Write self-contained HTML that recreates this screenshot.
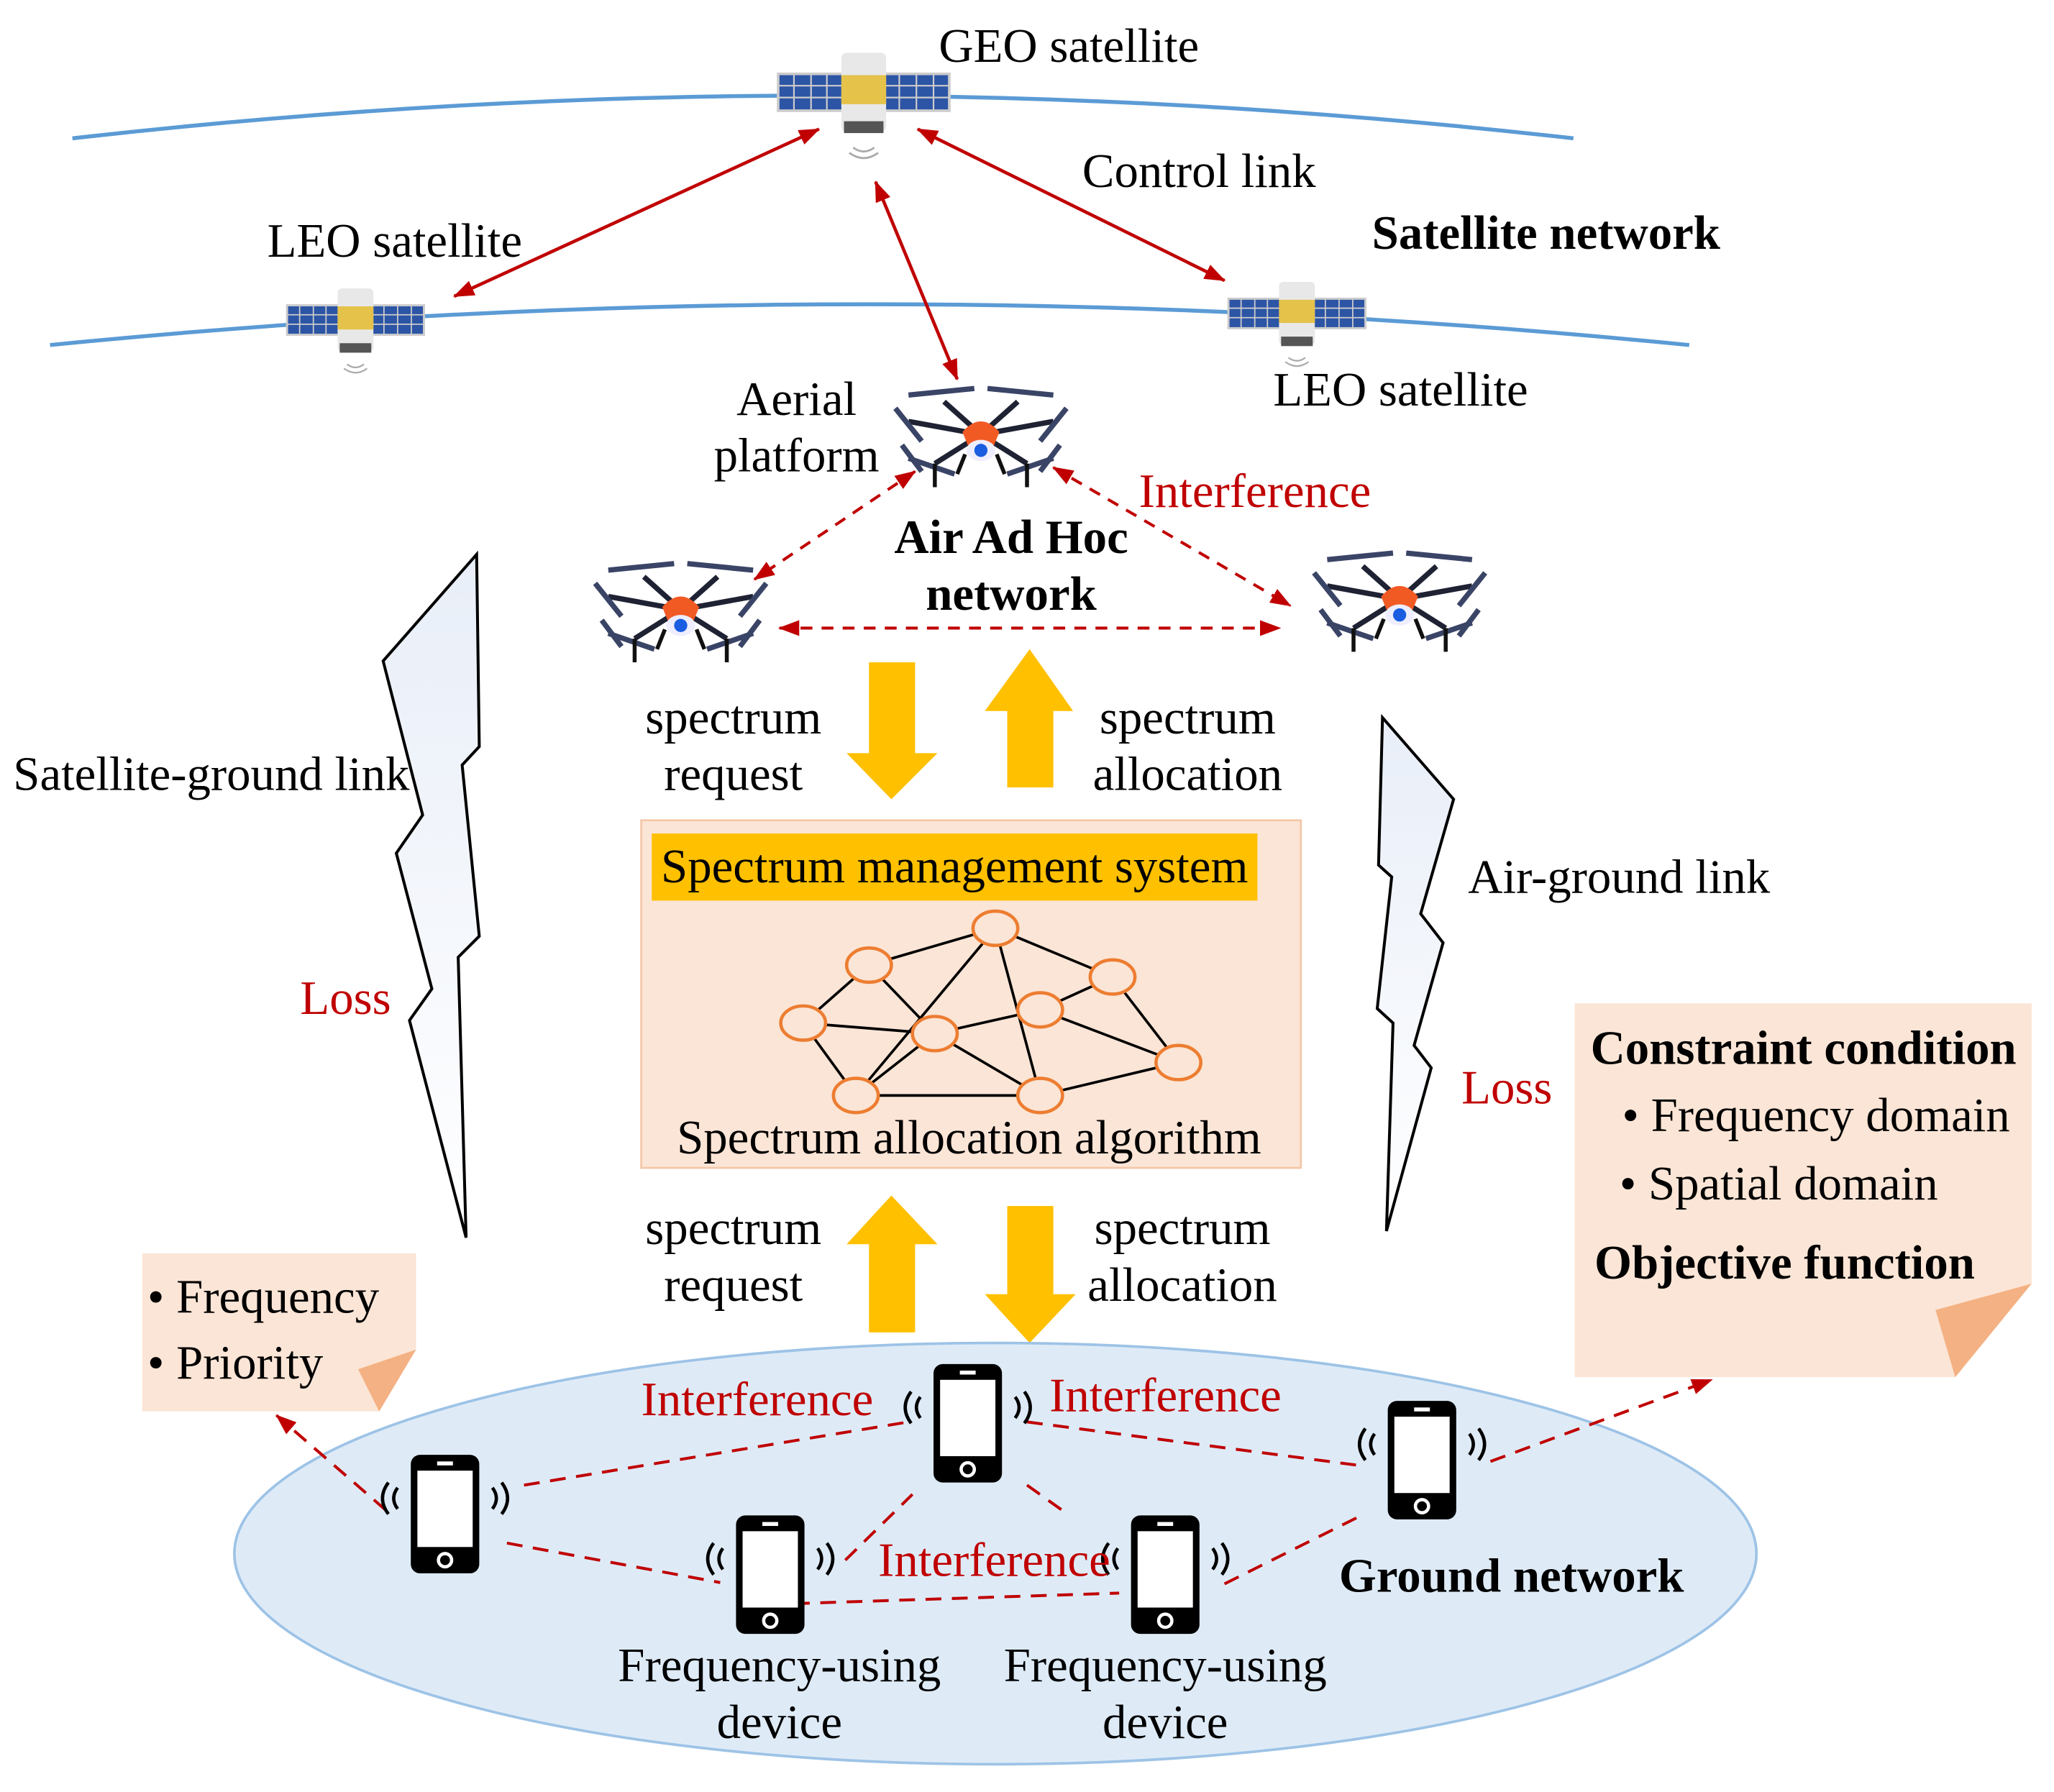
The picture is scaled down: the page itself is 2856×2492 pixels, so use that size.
<!DOCTYPE html>
<html><head><meta charset="utf-8"><style>
html,body{margin:0;padding:0;background:#fff}
svg{display:block}
text{font-family:"Liberation Serif",serif;font-size:36.5px;fill:#000}
.r{fill:#c00000}
.b{font-weight:bold}
</style></head><body>
<svg width="2856" height="2492" viewBox="0 0 1560 1361" xmlns="http://www.w3.org/2000/svg">
<defs>
<marker id="ah2" markerWidth="16" markerHeight="12" refX="15" refY="6" orient="auto-start-reverse" markerUnits="userSpaceOnUse"><path d="M0,0 L16,6 L0,12 z" fill="#c00000"/></marker>
<linearGradient id="bg" x1="0" y1="0" x2="0" y2="1"><stop offset="0" stop-color="#e8eef8"/><stop offset="1" stop-color="#ffffff"/></linearGradient>
<g id="sat">
<rect x="-65" y="-14" width="50" height="28" fill="#2d55a5" stroke="#ccc" stroke-width="2"/>
<rect x="15" y="-14" width="50" height="28" fill="#2d55a5" stroke="#ccc" stroke-width="2"/>
<path d="M-53,-14v28M-40,-14v28M-28,-14v28M27,-14v28M40,-14v28M53,-14v28M-65,-5h50M-65,4h50M15,-5h50M15,4h50" stroke="#ccc" stroke-width="1.2"/>
<rect x="-17" y="-30" width="34" height="60" rx="4" fill="#e8e8e8"/>
<rect x="-17" y="-13" width="34" height="22" fill="#e5c24a"/>
<rect x="-15" y="22" width="30" height="9" fill="#555"/>
<path d="M-8,42 q8,6 16,0 M-11,46 q11,8 22,0" stroke="#aaa" fill="none" stroke-width="1.5"/>
</g>
<g id="drone">
<g stroke="#1e2233" stroke-width="4" fill="none">
<path d="M0,0 L-55,-10 M0,0 L55,-10 M0,0 L-28,-25 M0,0 L28,-25 M0,0 L-35,22 M0,0 L35,22"/>
</g>
<g stroke="#3a4466" stroke-width="4" fill="none">
<path d="M-65,-20 L-45,5 M65,-20 L45,5 M-55,-30 L-5,-35 M55,-30 L5,-35 M-55,18 L-20,30 M55,18 L20,30 M-60,8 L-45,28 M60,8 L45,28"/>
</g>
<path d="M-14,-2 Q0,-18 14,-2 L10,8 H-10Z" fill="#f25a24"/>
<ellipse cx="0" cy="12" rx="11" ry="8" fill="#eef"/>
<circle cx="0" cy="12" r="5" fill="#1a5de0"/>
<path d="M-35,22 v18 M35,22 v18 M-12,15 L-18,30 M12,15 L18,30" stroke="#111" stroke-width="3"/>
</g>
<g id="phone">
<rect x="-26" y="-45" width="52" height="90" rx="7" fill="#000"/>
<rect x="-21" y="-33" width="42" height="58" fill="#fff"/>
<rect x="-6" y="-40" width="12" height="3" fill="#fff"/>
<circle cx="0" cy="35" r="5" fill="none" stroke="#fff" stroke-width="2.5"/>
<path d="M-36,-20 q-6,8 0,16 M-43,-24 q-9,12 0,24 M36,-20 q6,8 0,16 M43,-24 q9,12 0,24" stroke="#000" stroke-width="2.5" fill="none"/>
</g>
</defs>

<path d="M55,105 Q625,40 1195,105" stroke="#5b9bd5" stroke-width="3" fill="none"/>
<path d="M38,262 Q660,200 1283,262" stroke="#5b9bd5" stroke-width="3" fill="none"/>
<use href="#sat" x="656" y="70"/>
<use href="#sat" transform="translate(270,243) scale(0.8)"/>
<use href="#sat" transform="translate(985,238) scale(0.8)"/>

<text x="713" y="47">GEO satellite</text>
<text x="822" y="142">Control link</text>
<text x="1042" y="189" class="b">Satellite network</text>
<text x="203" y="195">LEO satellite</text>
<text x="967" y="308">LEO satellite</text>

<g stroke="#c00000" stroke-width="2.5" fill="none">
<line x1="622" y1="98" x2="345" y2="225" marker-start="url(#ah2)" marker-end="url(#ah2)"/>
<line x1="697" y1="98" x2="930" y2="213" marker-start="url(#ah2)" marker-end="url(#ah2)"/>
<line x1="665" y1="138" x2="727" y2="288" marker-start="url(#ah2)" marker-end="url(#ah2)"/>
</g>

<use href="#drone" x="745" y="330"/>
<use href="#drone" x="517" y="463"/>
<use href="#drone" x="1063" y="455"/>
<text x="605" y="315" text-anchor="middle">Aerial</text>
<text x="605" y="358" text-anchor="middle">platform</text>
<text x="865" y="385" class="r">Interference</text>
<text x="768" y="420" text-anchor="middle" class="b">Air Ad Hoc</text>
<text x="768" y="463" text-anchor="middle" class="b">network</text>

<g stroke="#c00000" stroke-width="2.2" stroke-dasharray="9,7" fill="none">
<line x1="695" y1="358" x2="573" y2="440" marker-start="url(#ah2)" marker-end="url(#ah2)"/>
<line x1="800" y1="355" x2="980" y2="460" marker-start="url(#ah2)" marker-end="url(#ah2)"/>
<line x1="592" y1="477" x2="972" y2="477" marker-start="url(#ah2)" marker-end="url(#ah2)"/>
</g>

<g fill="#ffc000">
<path d="M660,503 H695 V572 H712 L677,607 L643,572 H660Z"/>
<path d="M765,598 H800 V540 H815 L782,493 L748,540 H765Z"/>
<path d="M660,1012 H695 V945 H712 L677,908 L643,945 H660Z"/>
<path d="M765,916 H800 V983 H817 L782,1020 L748,983 H765Z"/>
</g>
<text x="557" y="557" text-anchor="middle">spectrum</text>
<text x="557" y="600" text-anchor="middle">request</text>
<text x="902" y="557" text-anchor="middle">spectrum</text>
<text x="902" y="600" text-anchor="middle">allocation</text>
<text x="557" y="945" text-anchor="middle">spectrum</text>
<text x="557" y="988" text-anchor="middle">request</text>
<text x="898" y="945" text-anchor="middle">spectrum</text>
<text x="898" y="988" text-anchor="middle">allocation</text>

<rect x="487" y="623" width="501" height="264" fill="#fbe5d6" stroke="#f4c7a8" stroke-width="1.5"/>
<rect x="495" y="633" width="460" height="51" fill="#ffc000"/>
<text x="502" y="670">Spectrum management system</text>
<text x="736" y="876" text-anchor="middle">Spectrum allocation algorithm</text>
<g stroke="#000" stroke-width="2" fill="none">
<path d="M660,733 L756,705 L845,742 M660,733 L610,777 L710,785 L790,767 L845,742 L895,807 L790,832 L650,832 L610,777 M756,705 L650,832 M756,705 L790,832 M710,785 L790,832 M790,767 L895,807 M660,733 L710,785 M710,785 L650,832"/>
</g>
<g fill="#fbe5d6" stroke="#ed7d31" stroke-width="2.5">
<ellipse cx="756" cy="705" rx="17" ry="13"/><ellipse cx="660" cy="733" rx="17" ry="13"/>
<ellipse cx="845" cy="742" rx="17" ry="13"/><ellipse cx="790" cy="767" rx="17" ry="13"/>
<ellipse cx="610" cy="777" rx="17" ry="13"/><ellipse cx="710" cy="785" rx="17" ry="13"/>
<ellipse cx="895" cy="807" rx="17" ry="13"/><ellipse cx="650" cy="832" rx="17" ry="13"/>
<ellipse cx="790" cy="832" rx="17" ry="13"/>
</g>

<polygon points="362,421 291,502 321,619 301,648 328,751 311,775 354,940 348,727 364,711 351,581 364,567" fill="url(#bg)" stroke="#000" stroke-width="2.2" stroke-linejoin="miter"/>
<polygon points="1050,545 1104,607 1079,694 1096,716 1074,794 1087,811 1053,935 1058,777 1046,766 1057,666 1047,657" fill="url(#bg)" stroke="#000" stroke-width="2.2"/>
<text x="10" y="600">Satellite-ground link</text>
<text x="228" y="770" class="r">Loss</text>
<text x="1115" y="678">Air-ground link</text>
<text x="1110" y="838" class="r">Loss</text>

<path d="M108,952 H316 V1025 L288,1072 H108Z" fill="#fbe5d6"/>
<path d="M272,1040 L316,1025 L288,1072Z" fill="#f4b183"/>
<text x="112" y="997">• Frequency</text>
<text x="112" y="1047">• Priority</text>
<path d="M1196,762 H1543 V975 L1485,1046 H1196Z" fill="#fbe5d6"/>
<path d="M1470,995 L1543,975 L1485,1046Z" fill="#f4b183"/>
<text x="1208" y="808" class="b">Constraint condition</text>
<text x="1232" y="859">• Frequency domain</text>
<text x="1230" y="911">• Spatial domain</text>
<text x="1211" y="971" class="b">Objective function</text>

<ellipse cx="756" cy="1180" rx="578" ry="160" fill="#deebf7" stroke="#9dc3e6" stroke-width="2"/>
<g stroke="#c00000" stroke-width="2.2" stroke-dasharray="12,8" fill="none">
<line x1="398" y1="1128" x2="690" y2="1080"/>
<line x1="780" y1="1080" x2="1032" y2="1113"/>
<line x1="385" y1="1172" x2="547" y2="1202"/>
<line x1="642" y1="1185" x2="693" y2="1135"/>
<line x1="780" y1="1128" x2="808" y2="1148"/>
<line x1="603" y1="1218" x2="850" y2="1210"/>
<line x1="930" y1="1203" x2="1036" y2="1150"/>
<line x1="293" y1="1147" x2="210" y2="1075" marker-end="url(#ah2)"/>
<line x1="1132" y1="1110" x2="1300" y2="1048" marker-end="url(#ah2)"/>
</g>
<use href="#phone" x="338" y="1150"/>
<use href="#phone" x="735" y="1081"/>
<use href="#phone" x="585" y="1196"/>
<use href="#phone" x="885" y="1196"/>
<use href="#phone" x="1080" y="1109"/>
<text x="487" y="1075" class="r">Interference</text>
<text x="797" y="1072" class="r">Interference</text>
<text x="667" y="1197" class="r">Interference</text>
<text x="1017" y="1209" class="b">Ground network</text>
<text x="592" y="1277" text-anchor="middle">Frequency-using</text>
<text x="592" y="1320" text-anchor="middle">device</text>
<text x="885" y="1277" text-anchor="middle">Frequency-using</text>
<text x="885" y="1320" text-anchor="middle">device</text>
</svg>
</body></html>
